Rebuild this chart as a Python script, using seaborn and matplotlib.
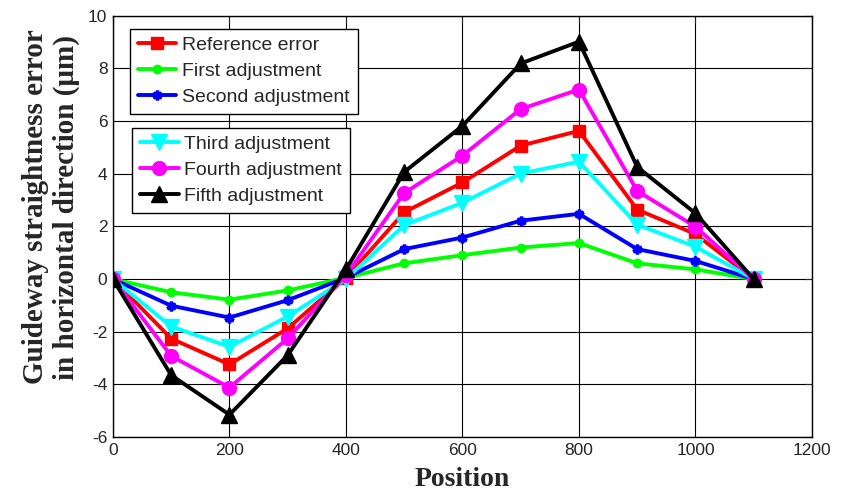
import numpy as np
import pandas as pd
import matplotlib
matplotlib.use("Agg")
import matplotlib.pyplot as plt
import seaborn as sns

# posiciones de medida
position = [0, 100, 200, 300, 400, 500, 600, 700, 800, 900, 1000, 1100]

# errores de rectitud (um)
reference_error = [0, -2.26, -3.24, -1.87, 0.05, 2.54, 3.67, 5.07, 5.63, 2.64, 1.71, 0]
first_adj = [0, -0.50, -0.78, -0.43, 0.05, 0.60, 0.91, 1.20, 1.37, 0.60, 0.37, 0]
second_adj = [0, -1.01, -1.46, -0.80, 0.05, 1.14, 1.58, 2.22, 2.48, 1.14, 0.69, 0]
third_adj = [0, -1.80, -2.57, -1.42, 0.0, 2.05, 2.90, 4.01, 4.46, 2.07, 1.23, 0]
fourth_adj = [0, -2.92, -4.12, -2.25, 0.15, 3.27, 4.69, 6.46, 7.20, 3.35, 1.99, 0]
fifth_adj = [0, -3.65, -5.15, -2.89, 0.37, 4.07, 5.82, 8.19, 9.02, 4.26, 2.50, 0]

labels = ['Reference error', 'First adjustment', 'Second adjustment',
          'Third adjustment', 'Fourth adjustment', 'Fifth adjustment']

data = pd.DataFrame({'position': position,
                     labels[0]: reference_error, labels[1]: first_adj,
                     labels[2]: second_adj, labels[3]: third_adj,
                     labels[4]: fourth_adj, labels[5]: fifth_adj})

sns.set_style("white")
plt.rcParams['font.family'] = ['Liberation Sans', 'DejaVu Sans']
plt.rcParams['axes.unicode_minus'] = False

styles = [
    ('#ff0000', 's', 9, 1),
    ('#00ff00', 'o', 6, 1),
    ('#0000ff', (6, 2, 0), 7, 2.5),
    ('#00ffff', 'v', 11, 1),
    ('#ff00ff', 'o', 10, 1),
    ('#000000', '^', 11, 1),
]

fig = plt.figure(figsize=(8.52, 4.95), dpi=100)
ax = fig.add_axes([0.1326, 0.117, 0.8204, 0.851])

for lab, (col, mk, ms, mew) in zip(labels, styles):
    sns.lineplot(x='position', y=lab, data=data, ax=ax, color=col, lw=2.8,
                 marker=mk, markersize=ms, markeredgecolor=col,
                 markeredgewidth=mew, markerfacecolor=col, label=lab)

h, l = ax.get_legend_handles_labels()
if ax.get_legend():
    ax.get_legend().remove()

ax.set_xlim(0, 1200)
ax.set_ylim(-6, 10)
ax.set_xticks(np.arange(0, 1201, 200))
ax.set_yticks(np.arange(-6, 11, 2))
ax.grid(True, color='black', lw=0.8)
ax.set_axisbelow(True)
ax.tick_params(direction='in', length=5, labelsize=12.5, top=True, right=True,
               width=0.8, pad=4)
for sp in ax.spines.values():
    sp.set_color('black')
    sp.set_linewidth(1)

ax.set_xlabel('Position', family='Liberation Serif', fontweight='bold',
              fontsize=20, labelpad=7)
ax.set_ylabel('Guideway straightness error\nin horizontal direction (\u03bcm)',
              family='Liberation Serif', fontweight='bold', fontsize=21,
              linespacing=1.2)
ax.yaxis.set_label_coords(-0.047, 0.546)

leg_kw = dict(loc='upper left', fontsize=14, frameon=True, fancybox=False,
              edgecolor='black', framealpha=1, handlelength=2.0,
              borderaxespad=0, labelspacing=0.42, handletextpad=0.3,
              borderpad=0.4)
leg1 = ax.legend(h[:3], l[:3], bbox_to_anchor=(0.024, 0.969), **leg_kw)
leg1.get_frame().set_linewidth(1)
ax.add_artist(leg1)
leg2 = ax.legend(h[3:], l[3:], bbox_to_anchor=(0.027, 0.734), **leg_kw)
leg2.get_frame().set_linewidth(1)

fig.savefig('out.png', dpi=100)
